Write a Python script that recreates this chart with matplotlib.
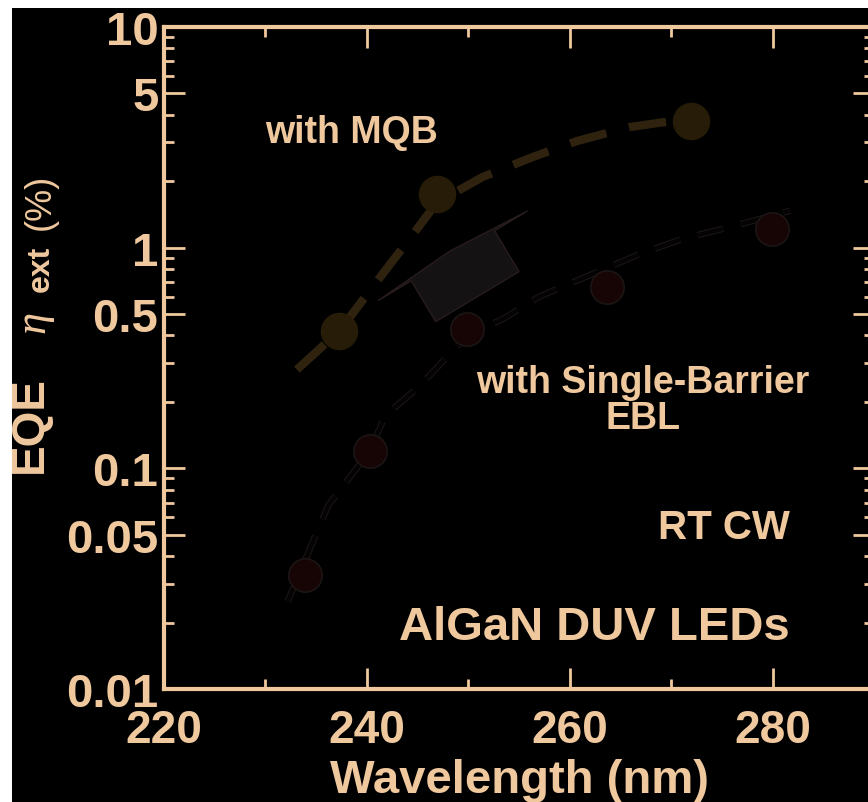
import matplotlib.pyplot as plt
import matplotlib.patheffects as pe
from matplotlib.patches import Rectangle, FancyArrowPatch
from matplotlib.ticker import FixedLocator, NullFormatter

# EQE vs wavelength, AlGaN DUV LEDs
mqb_wl = [237.3, 246.9, 272.0]
mqb_eqe = [0.42, 1.75, 3.75]
mqb_fit_wl = [233.1, 237.3, 240.8, 244.2, 246.9, 251.4, 256.4, 260.7, 265.9, 271.5]
mqb_fit_eqe = [0.28, 0.42, 0.685, 1.095, 1.6, 2.09, 2.58, 3.04, 3.52, 3.83]

sb_wl = [233.9, 240.3, 249.9, 263.7, 279.9]
sb_eqe = [0.033, 0.12, 0.43, 0.66, 1.22]
sb_fit_wl = [232.2, 236.2, 240.3, 241.8, 245.2, 249.9, 253.4, 257.0, 266.9, 271.1, 276.1, 281.7]
sb_fit_eqe = [0.025, 0.068, 0.12, 0.173, 0.236, 0.40, 0.475, 0.60, 0.936, 1.095, 1.25, 1.47]

ytick_vals = [0.01, 0.05, 0.1, 0.5, 1, 5, 10]
ytick_labels = ['0.01', '0.05', '0.1', '0.5', '1', '5', '10']
yminor_vals = [0.02, 0.03, 0.04, 0.06, 0.07, 0.08, 0.09,
               0.2, 0.3, 0.4, 0.6, 0.7, 0.8, 0.9,
               2, 3, 4, 6, 7, 8, 9]
xtick_vals = [220, 240, 260, 280]
xminor_vals = [230, 250, 270, 290]

tan = '#F0C89E'
plt.rcParams['font.family'] = ['Liberation Sans', 'DejaVu Sans']

fig = plt.figure(figsize=(8.68, 8.03), dpi=100, facecolor='white')
fig.patches.append(Rectangle((12/868, 0), 1, 794/803, transform=fig.transFigure,
                             facecolor='black', edgecolor='none', zorder=-10))
ax = fig.add_axes([164/868, 113/803, 710/868, 662/803])
ax.set_facecolor('black')
ax.set_yscale('log')
ax.set_xlim(220, 290)
ax.set_ylim(0.01, 10)

# fitted trends
ax.plot(mqb_fit_wl, mqb_fit_eqe, color='#2f2310', lw=6, dashes=(4.5, 2.8),
        dash_capstyle='butt', zorder=2)
ax.plot(sb_fit_wl, sb_fit_eqe, color='#050303', lw=3.2, dashes=(6, 4),
        dash_capstyle='butt', zorder=2,
        path_effects=[pe.Stroke(linewidth=4.6, foreground='#1e1818'), pe.Normal()])

# data points
ax.plot(mqb_wl, mqb_eqe, 'o', ms=26, color='#271c08', mec='#271c08', zorder=3)
ax.plot(sb_wl, sb_eqe, 'o', ms=24, color='#170404', mec='#1c1515', mew=1.2, zorder=3)

# improvement arrow
arr = FancyArrowPatch((250.9, 0.60), (248.2, 0.966),
                      arrowstyle='simple,head_length=0.4,head_width=12.5,tail_width=7.0',
                      mutation_scale=10, shrinkA=0, shrinkB=0,
                      facecolor='#141212', edgecolor='#281c1c', lw=1.0, zorder=1)
ax.add_patch(arr)

ax.text(0.142, 0.841, 'with MQB', transform=ax.transAxes, color=tan,
        fontsize=27, fontweight='bold', ha='left', va='center')
ax.text(0.675, 0.4366, 'with Single-Barrier\nEBL', transform=ax.transAxes, color=tan,
        fontsize=27, fontweight='bold', ha='center', va='center',
        multialignment='center', linespacing=1.0)
ax.text(0.8817, 0.2447, 'RT CW', transform=ax.transAxes, color=tan,
        fontsize=29, fontweight='bold', ha='right', va='center')
ax.text(0.8817, 0.0937, 'AlGaN DUV LEDs', transform=ax.transAxes, color=tan,
        fontsize=34, fontweight='bold', ha='right', va='center')

# axes styling
for s in ax.spines.values():
    s.set_color(tan)
    s.set_linewidth(3)
ax.yaxis.set_major_locator(FixedLocator(ytick_vals))
ax.set_yticklabels(ytick_labels)
ax.yaxis.set_minor_locator(FixedLocator(yminor_vals))
ax.yaxis.set_minor_formatter(NullFormatter())
ax.xaxis.set_major_locator(FixedLocator(xtick_vals))
ax.xaxis.set_minor_locator(FixedLocator(xminor_vals))
ax.tick_params(which='both', direction='in', top=True, right=True, colors=tan)
ax.tick_params(which='major', length=15, width=2)
ax.tick_params(which='minor', length=7, width=2)
ax.tick_params(axis='x', which='major', labelsize=33, pad=14)
ax.tick_params(axis='y', which='major', labelsize=34, pad=4)
for lab in ax.get_xticklabels() + ax.get_yticklabels():
    lab.set_fontweight('bold')

ax.set_xlabel('Wavelength (nm)', color=tan, fontsize=34, fontweight='bold', labelpad=4)

# y label built from pieces: EQE  eta_ext  (%)
fig.text(30/868, 1 - 425/803, 'EQE', color=tan, fontsize=33, fontweight='bold',
         rotation=90, ha='center', va='center')
fig.text(33/868, 1 - 322/803, '\u03b7', color=tan, fontsize=32, family='Liberation Serif',
         style='italic', rotation=90, ha='center', va='center')
fig.text(41/868, 1 - 269/803, 'ext', color=tan, fontsize=23, fontweight='bold',
         rotation=90, ha='center', va='center')
fig.text(40/868, 1 - 202/803, '(%)', color=tan, fontsize=26, fontweight='normal',
         rotation=90, ha='center', va='center')

plt.savefig('out.png', dpi=100, facecolor=fig.get_facecolor())
